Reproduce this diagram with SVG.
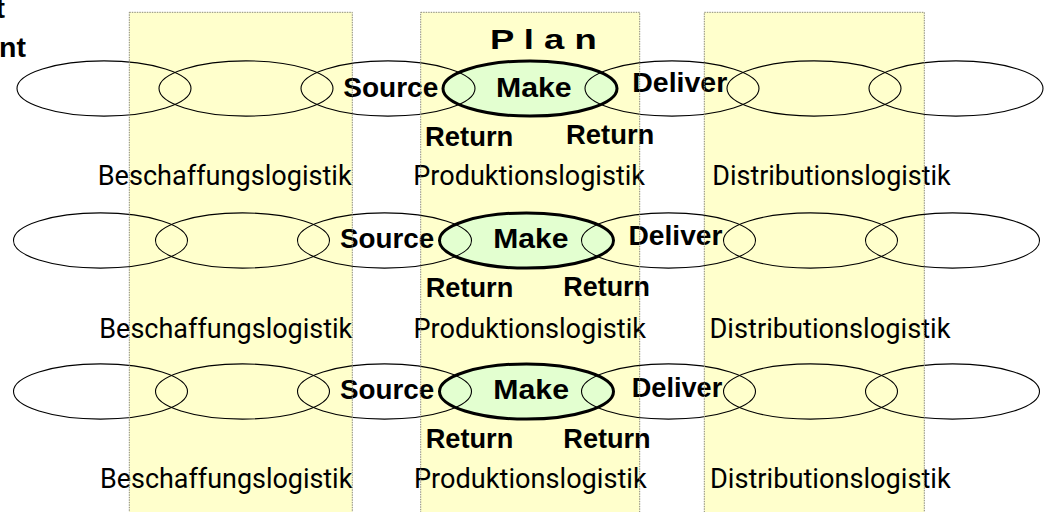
<svg xmlns="http://www.w3.org/2000/svg" width="1048" height="512" viewBox="0 0 1048 512">
<style>
.col{fill:#FFFFCC;stroke:none}
.colb{fill:none;stroke:#8a8a7a;stroke-width:1;stroke-dasharray:1.5 1}
.el{fill:none;stroke:#000;stroke-width:1.1}
.mk{fill:#E3FFD0;stroke:#000;stroke-width:3}
.b{font-family:"Liberation Sans",Arial,sans-serif;font-weight:bold;font-size:28.5px;fill:#000}
.r{font-family:Roboto,"Liberation Sans",Arial,sans-serif;font-size:27px;fill:#000}
</style>
<defs>
<ellipse id="e" cx="0" cy="0" rx="87" ry="27.6" class="el"/>
</defs>
<g id="columns">
<rect class="col" x="129.3" y="12.3" width="223" height="500"/>
<rect class="col" x="420.7" y="12.3" width="219" height="500"/>
<rect class="col" x="704.3" y="12.3" width="220" height="500"/>
</g>
<g id="title">
<text class="b" x="5" y="18" text-anchor="end" font-size="29">t</text>
<text class="b" x="26" y="57" text-anchor="end" font-size="29">nt</text>
<text class="b" x="490" y="49" textLength="106.7" lengthAdjust="spacingAndGlyphs">P l a n</text>
</g>
<g id="row1" transform="translate(0,88.5)">
<ellipse id="make1" class="mk" cx="530" cy="0" rx="87" ry="27.6"/>
<use href="#e" x="104"/><use href="#e" x="246"/><use href="#e" x="388"/><use href="#e" x="672"/><use href="#e" x="814"/><use href="#e" x="956"/>
</g>
<g id="row2" transform="translate(-3.5,240.5)">
<ellipse id="make2" class="mk" cx="530" cy="0" rx="87" ry="27.6"/>
<use href="#e" x="104"/><use href="#e" x="246"/><use href="#e" x="388"/><use href="#e" x="672"/><use href="#e" x="814"/><use href="#e" x="956"/>
</g>
<g id="row3" transform="translate(-3.5,391.5)">
<ellipse id="make3" class="mk" cx="530" cy="0" rx="87" ry="27.6"/>
<use href="#e" x="104"/><use href="#e" x="246"/><use href="#e" x="388"/><use href="#e" x="672"/><use href="#e" x="814"/><use href="#e" x="956"/>
</g>
<g id="labels1">
<text class="b" x="343.3" y="97.3" textLength="95" lengthAdjust="spacingAndGlyphs">Source</text>
<text class="b" x="496" y="97.3" textLength="75.7" lengthAdjust="spacingAndGlyphs">Make</text>
<text class="b" x="632.3" y="91.7" textLength="95" lengthAdjust="spacingAndGlyphs">Deliver</text>
<text class="b" x="425" y="146" textLength="88.3" lengthAdjust="spacingAndGlyphs">Return</text>
<text class="b" x="566" y="144.3" textLength="88.3" lengthAdjust="spacingAndGlyphs">Return</text>
<text class="r" x="97.7" y="185.3" textLength="254" lengthAdjust="spacingAndGlyphs">Beschaffungslogistik</text>
<text class="r" x="413.3" y="185.3" textLength="231.7" lengthAdjust="spacingAndGlyphs">Produktionslogistik</text>
<text class="r" x="712.3" y="185.3" textLength="238.4" lengthAdjust="spacingAndGlyphs">Distributionslogistik</text>
</g>
<g id="labels2">
<text class="b" x="340" y="248.3" textLength="94.3" lengthAdjust="spacingAndGlyphs">Source</text>
<text class="b" x="493.3" y="248.3" textLength="75.3" lengthAdjust="spacingAndGlyphs">Make</text>
<text class="b" x="628.5" y="245" textLength="94" lengthAdjust="spacingAndGlyphs">Deliver</text>
<text class="b" x="425.7" y="296.7" textLength="87.6" lengthAdjust="spacingAndGlyphs">Return</text>
<text class="b" x="563.3" y="295.7" textLength="86.7" lengthAdjust="spacingAndGlyphs">Return</text>
<text class="r" x="99.3" y="338.3" textLength="253" lengthAdjust="spacingAndGlyphs">Beschaffungslogistik</text>
<text class="r" x="413.5" y="338.3" textLength="232.5" lengthAdjust="spacingAndGlyphs">Produktionslogistik</text>
<text class="r" x="709.5" y="338.3" textLength="241" lengthAdjust="spacingAndGlyphs">Distributionslogistik</text>
</g>
<g id="labels3">
<text class="b" x="340" y="399.3" textLength="94.3" lengthAdjust="spacingAndGlyphs">Source</text>
<text class="b" x="493.3" y="399.3" textLength="75.7" lengthAdjust="spacingAndGlyphs">Make</text>
<text class="b" x="631.7" y="396.7" textLength="90.6" lengthAdjust="spacingAndGlyphs">Deliver</text>
<text class="b" x="425.7" y="448.3" textLength="87.6" lengthAdjust="spacingAndGlyphs">Return</text>
<text class="b" x="563.3" y="448.3" textLength="87.4" lengthAdjust="spacingAndGlyphs">Return</text>
<text class="r" x="100" y="488.3" textLength="252.3" lengthAdjust="spacingAndGlyphs">Beschaffungslogistik</text>
<text class="r" x="414" y="488.3" textLength="232.7" lengthAdjust="spacingAndGlyphs">Produktionslogistik</text>
<text class="r" x="710" y="488.3" textLength="240.7" lengthAdjust="spacingAndGlyphs">Distributionslogistik</text>
</g>
<g id="column-borders">
<rect class="colb" x="129.3" y="12.3" width="223" height="510"/>
<rect class="colb" x="420.7" y="12.3" width="219" height="510"/>
<rect class="colb" x="704.3" y="12.3" width="220" height="510"/>
</g>
</svg>
